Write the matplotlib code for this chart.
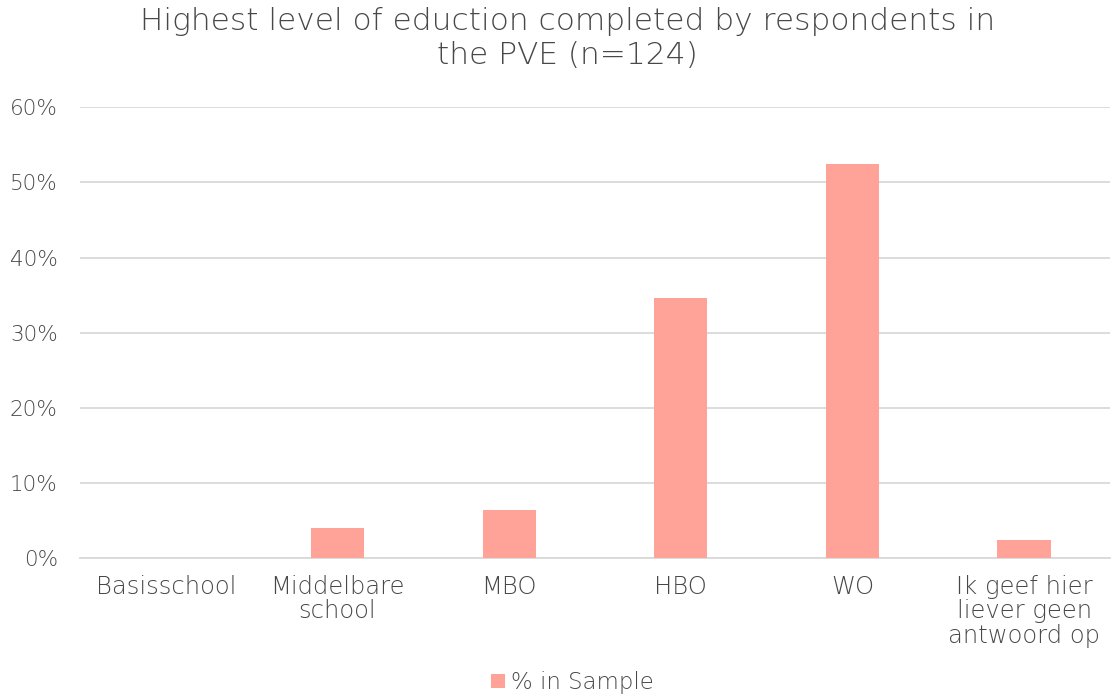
import numpy as np
import matplotlib.pyplot as plt
from matplotlib.ticker import PercentFormatter

categories = ['Basisschool', 'Middelbare\nschool', 'MBO', 'HBO', 'WO',
              'Ik geef hier\nliever geen\nantwoord op']
pct = [0.0, 4.03, 6.45, 34.68, 52.42, 2.42]

plt.rcParams['font.family'] = ['DejaVu Sans']
plt.rcParams['font.weight'] = 'light'
txt = '#484848'

fig = plt.figure(figsize=(11.11, 6.96), dpi=100)
ax = fig.add_axes([0.072, 0.198, 0.927, 0.648])

x = np.arange(len(categories))
ax.bar(x, pct, width=0.31, color='#FFA398', label='% in Sample', zorder=3)

ax.set_xlim(-0.5, len(categories) - 0.5)
ax.set_ylim(0, 60)
ax.set_yticks(np.arange(0, 61, 10))
ax.yaxis.set_major_formatter(PercentFormatter(decimals=0))
ax.grid(axis='y', color='#d9d9d9', linewidth=1.3, zorder=0)
ax.set_xticks(x)
ax.set_xticklabels(categories, fontsize=17.5, color=txt, linespacing=1.02)
ax.tick_params(axis='y', labelsize=15.5, labelcolor=txt, length=0, pad=16)
ax.tick_params(axis='x', length=0, pad=12)
for s in ['top', 'right', 'left']:
    ax.spines[s].set_visible(False)
ax.spines['bottom'].set_color('#d9d9d9')
ax.spines['bottom'].set_linewidth(1.3)

# titel in twee regels, zoals in het origineel
fig.suptitle('Highest level of eduction completed by respondents in\nthe PVE (n=124)',
             x=0.511, y=0.99, fontsize=22.5, color=txt, linespacing=1.2,
             fontweight='light')

leg = fig.legend(loc='center', bbox_to_anchor=(0.515, 0.019), frameon=False,
                 fontsize=16.5, handlelength=0.6, handleheight=0.6, handletextpad=0.25)
for t in leg.get_texts():
    t.set_color(txt)

fig.savefig('out.png', dpi=100)
